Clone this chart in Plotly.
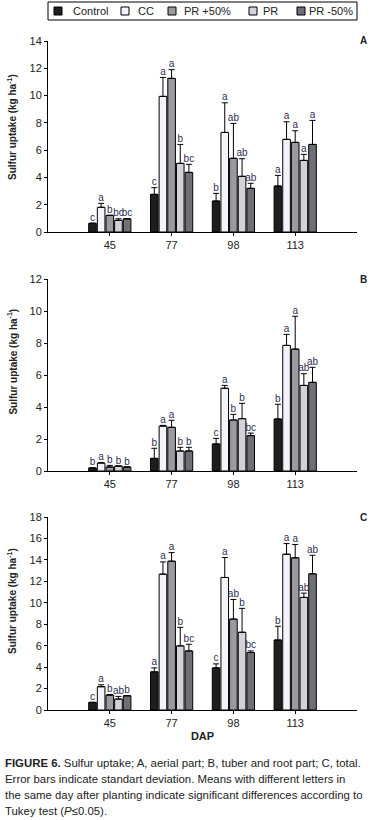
import plotly.graph_objects as go

# ---------------- data ----------------
dap = ["45", "77", "98", "113"]
treatments = ["Control", "CC", "PR +50%", "PR", "PR -50%"]

# Panel A: aerial part
a_control = [0.64, 2.76, 2.27, 3.37]
a_cc = [1.81, 9.94, 7.30, 6.79]
a_pr50p = [1.22, 11.26, 5.40, 6.57]
a_pr = [0.86, 5.03, 4.08, 5.25]
a_pr50m = [0.97, 4.37, 3.20, 6.42]
a_sd_control = [0.00, 0.49, 0.56, 0.78]
a_sd_cc = [0.29, 1.39, 2.17, 1.29]
a_sd_pr50p = [0.00, 0.64, 2.56, 0.85]
a_sd_pr = [0.11, 1.39, 1.29, 0.44]
a_sd_pr50m = [0.00, 0.59, 0.37, 1.76]
a_let_control = ["c", "c", "b", "a"]
a_let_cc = ["a", "a", "a", "a"]
a_let_pr50p = ["b", "a", "ab", "a"]
a_let_pr = ["bc", "b", "ab", "a"]
a_let_pr50m = ["bc", "bc", "ab", "a"]

# Panel B: tuber and root part
b_control = [0.19, 0.79, 1.69, 3.25]
b_cc = [0.50, 2.81, 5.17, 7.85]
b_pr50p = [0.25, 2.73, 3.19, 7.62]
b_pr = [0.31, 1.25, 3.27, 5.35]
b_pr50m = [0.25, 1.25, 2.21, 5.54]
b_sd_control = [0.00, 0.63, 0.35, 0.92]
b_sd_cc = [0.02, 0.04, 0.18, 0.69]
b_sd_pr50p = [0.10, 0.44, 0.35, 2.05]
b_sd_pr = [0.00, 0.23, 0.96, 0.73]
b_sd_pr50m = [0.00, 0.23, 0.16, 0.94]
b_let_control = ["b", "b", "c", "b"]
b_let_cc = ["a", "a", "a", "a"]
b_let_pr50p = ["b", "a", "b", "a"]
b_let_pr = ["b", "b", "b", "ab"]
b_let_pr50m = ["b", "b", "bc", "ab"]

# Panel C: total
c_control = [0.71, 3.56, 3.93, 6.53]
c_cc = [2.17, 12.67, 12.36, 14.53]
c_pr50p = [1.39, 13.88, 8.48, 14.19]
c_pr = [1.02, 5.98, 7.25, 10.50]
c_pr50m = [1.33, 5.51, 5.36, 12.70]
c_sd_control = [0.00, 0.37, 0.37, 1.28]
c_sd_cc = [0.18, 1.14, 1.86, 0.99]
c_sd_pr50p = [0.06, 0.80, 1.83, 1.24]
c_sd_pr = [0.25, 1.73, 2.23, 0.40]
c_sd_pr50m = [0.00, 0.62, 0.15, 1.73]
c_let_control = ["c", "a", "c", "b"]
c_let_cc = ["a", "a", "a", "a"]
c_let_pr50p = ["b", "a", "ab", "a"]
c_let_pr = ["ab", "b", "b", "ab"]
c_let_pr50m = ["b", "bc", "bc", "ab"]

y_ranges = [[0, 14], [0, 12], [0, 18]]
y_dticks = [2, 2, 2]
panel_labels = ["A", "B", "C"]
caption_lines = [
    "<b>FIGURE 6.</b> Sulfur uptake; A, aerial part; B, tuber and root part; C, total.",
    "Error bars indicate standart deviation. Means with different letters in",
    "the same day after planting indicate significant differences according to",
    "Tukey test (<i>P</i>\u22640.05).",
]

# ---------------- style ----------------
colors = ["#1e1e1e", "#f3f3f9", "#9a9aa0", "#d2d2d8", "#6f6f76"]
FONT = "Liberation Sans, Arial, sans-serif"
LETTER_COLOR = "#2e2e52"
TXT = "#222"
W, H = 371, 820
ML, MR, MT, MB = 48, 14, 40, 110
PW = W - ML - MR
PH = H - MT - MB

def py(ypx):  # pixel y -> paper y
    return (H - MB - ypx) / PH

def px(xpx):  # pixel x -> paper x
    return (xpx - ML) / PW

domains = [[py(232), py(41)], [py(471), py(279)], [py(710), py(517)]]

panels = [
    ([a_control, a_cc, a_pr50p, a_pr, a_pr50m],
     [a_sd_control, a_sd_cc, a_sd_pr50p, a_sd_pr, a_sd_pr50m],
     [a_let_control, a_let_cc, a_let_pr50p, a_let_pr, a_let_pr50m]),
    ([b_control, b_cc, b_pr50p, b_pr, b_pr50m],
     [b_sd_control, b_sd_cc, b_sd_pr50p, b_sd_pr, b_sd_pr50m],
     [b_let_control, b_let_cc, b_let_pr50p, b_let_pr, b_let_pr50m]),
    ([c_control, c_cc, c_pr50p, c_pr, c_pr50m],
     [c_sd_control, c_sd_cc, c_sd_pr50p, c_sd_pr, c_sd_pr50m],
     [c_let_control, c_let_cc, c_let_pr50p, c_let_pr, c_let_pr50m]),
]

BARGAP = 0.3
n_tr = len(treatments)
slot = (1 - BARGAP) / n_tr
xs = list(range(len(dap)))

fig = go.Figure()
for p, (vals, sds, lets) in enumerate(panels):
    xa = "x" if p == 0 else f"x{p+1}"
    ya = "y" if p == 0 else f"y{p+1}"
    for i, name in enumerate(treatments):
        fig.add_trace(go.Bar(
            x=xs, y=vals[i], name=name, xaxis=xa, yaxis=ya,
            marker=dict(color=colors[i], line=dict(color="black", width=1)),
            error_y=dict(type="data", array=sds[i], arrayminus=[0] * len(sds[i]),
                         symmetric=False, color="black", thickness=1, width=3),
            showlegend=False,
        ))
    for i, name in enumerate(treatments):
        off = (i - (n_tr - 1) / 2) * slot
        fig.add_trace(go.Scatter(
            x=[x + off for x in xs],
            y=[v + s for v, s in zip(vals[i], sds[i])],
            text=lets[i], mode="text", textposition="top center",
            textfont=dict(family=FONT, size=10, color=LETTER_COLOR),
            xaxis=xa, yaxis=ya, showlegend=False, hoverinfo="skip",
        ))

axis_common = dict(showline=True, linecolor="black", linewidth=1, ticks="outside",
                   ticklen=3, tickcolor="black", showgrid=False, zeroline=False,
                   tickfont=dict(family=FONT, size=11, color=TXT))
layout = dict(
    width=W, height=H, margin=dict(l=ML, r=MR, t=MT, b=MB),
    paper_bgcolor="white", plot_bgcolor="white",
    barmode="group", bargap=BARGAP, bargroupgap=0.12,
    font=dict(family=FONT, size=11, color=TXT),
    showlegend=False,
)
title_y = [0.55, 0.57, 0.565]
annotations = []
for p in range(3):
    xk = "xaxis" if p == 0 else f"xaxis{p+1}"
    yk = "yaxis" if p == 0 else f"yaxis{p+1}"
    xa = "x" if p == 0 else f"x{p+1}"
    ya = "y" if p == 0 else f"y{p+1}"
    layout[xk] = dict(axis_common, domain=[0, 1], range=[-1, 4], tickvals=xs,
                      ticktext=dap, anchor=ya)
    layout[yk] = dict(axis_common, domain=domains[p], range=y_ranges[p],
                      dtick=y_dticks[p], anchor=xa)
    annotations.append(dict(
        text="<b>Sulfur uptake (kg ha<sup>-1</sup>)</b>", textangle=-90,
        xref="paper", x=px(12), xanchor="center",
        yref=f"{ya} domain", y=title_y[p], yanchor="middle",
        showarrow=False, font=dict(family=FONT, size=10, color=TXT)))
    annotations.append(dict(
        text=f"<b>{panel_labels[p]}</b>", xref="paper", x=px(363), xanchor="center",
        yref=f"{ya} domain", y=1, yanchor="middle", showarrow=False,
        font=dict(family=FONT, size=10, color=TXT)))
layout["xaxis3"]["title"] = dict(text="<b>DAP</b>", standoff=4,
                                 font=dict(family=FONT, size=11, color=TXT))

# caption
cap_y = [763, 779, 795, 811]
for line, yy in zip(caption_lines, cap_y):
    annotations.append(dict(text=line, xref="paper", x=px(3), xanchor="left",
                            yref="paper", y=py(yy), yanchor="middle", showarrow=False,
                            font=dict(family=FONT, size=11.4, color=TXT)))

# manual legend (box, swatches, labels)
shapes = [dict(type="rect", xref="paper", yref="paper", x0=px(48), x1=px(357),
               y0=py(20), y1=py(2), line=dict(color="black", width=1))]
sw_x = [58, 125, 172, 253, 301]
tx_x = [71, 136, 182, 261, 307]
for i, name in enumerate(treatments):
    shapes.append(dict(type="rect", xref="paper", yref="paper",
                       x0=px(sw_x[i] - 4), x1=px(sw_x[i] + 4), y0=py(15), y1=py(7),
                       fillcolor=colors[i], line=dict(color="black", width=1)))
    annotations.append(dict(text=name, xref="paper", x=px(tx_x[i]), xanchor="left",
                            yref="paper", y=py(11), yanchor="middle", showarrow=False,
                            font=dict(family=FONT, size=11, color=TXT)))

layout["annotations"] = annotations
layout["shapes"] = shapes
fig.update_layout(**layout)

fig.write_html("out.html", config={"displayModeBar": False},
               post_script="document.body.style.margin='0';")
